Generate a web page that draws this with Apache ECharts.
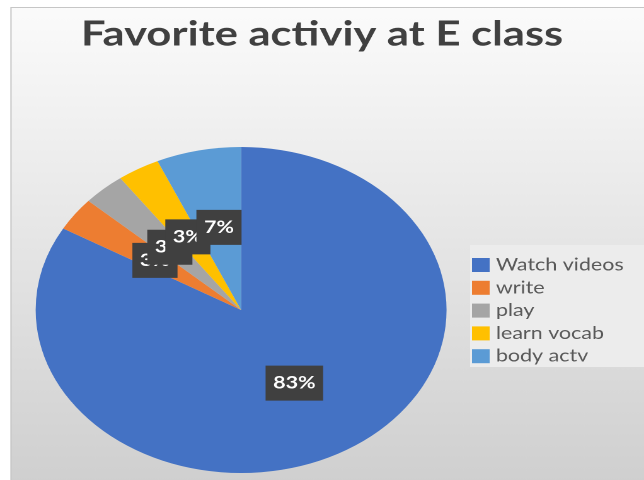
<!DOCTYPE html>
<html>
<head>
<meta charset="utf-8">
<script src="https://cdn.jsdelivr.net/npm/echarts@6/dist/echarts.min.js"></script>
<style>
  html, body { margin: 0; padding: 0; background: #ffffff; overflow: hidden; }
  #wrap { width: 644px; height: 480px; overflow: hidden; }
  #chart { width: 511px; height: 480px; transform-origin: 0 0; transform: scaleX(1.2603); }
</style>
</head>
<body>
<div id="wrap"><div id="chart"></div></div>
<script>
// Data
const titleText = 'Favorite activiy at E class';
const categories = ['Watch videos', 'write', 'play', 'learn vocab', 'body actv'];
const counts = [25, 1, 1, 1, 2];
const colors = ['#4472C4', '#ED7D31', '#A5A5A5', '#FFC000', '#5B9BD5'];

const chart = echarts.init(document.getElementById('chart'), null, { devicePixelRatio: 2 });
const W = 511, H = 480;

chart.setOption({
  animation: false,
  title: {
    text: titleText,
    left: 'center',
    top: 12,
    textStyle: { fontFamily: 'Lato', fontWeight: 'bold', fontSize: 34.5, color: '#404040' }
  },
  graphic: [
    {
      type: 'rect', z: -10, silent: true,
      shape: { x: 8.7, y: 7.5, width: W, height: H },
      style: {
        fill: new echarts.graphic.LinearGradient(0, 0, 0, 1, [
          { offset: 0, color: '#fbfbfb' },
          { offset: 1, color: '#cfcfcf' }
        ]),
        stroke: '#c6c6c6', lineWidth: 1
      }
    },
    {
      type: 'rect', z: -5, silent: true,
      shape: { x: 373, y: 245, width: 140, height: 122 },
      style: { fill: '#ececec' }
    }
  ],
  legend: {
    orient: 'vertical',
    left: 374.5,
    top: 256.5,
    padding: 0,
    itemWidth: 14,
    itemHeight: 14,
    itemGap: 5.8,
    icon: 'rect',
    textStyle: { fontFamily: 'Lato', fontSize: 17, color: '#595959' },
    data: categories
  },
  series: [{
    type: 'pie',
    center: [191.3, 310],
    radius: [0, 163],
    startAngle: 90,
    clockwise: true,
    silent: true,
    avoidLabelOverlap: false,
    labelLayout: { hideOverlap: false },
    itemStyle: { borderWidth: 0 },
    label: {
      show: true,
      position: 'inside',
      formatter: p => Math.round(p.percent) + '%',
      fontFamily: 'Lato',
      fontWeight: 'bold',
      fontSize: 17,
      lineHeight: 17,
      color: '#ffffff',
      backgroundColor: '#404040',
      padding: [9, 6]
    },
    labelLine: { show: false },
    data: categories.map((c, i) => ({ name: c, value: counts[i], itemStyle: { color: colors[i] } }))
  }]
});
</script>
</body>
</html>
